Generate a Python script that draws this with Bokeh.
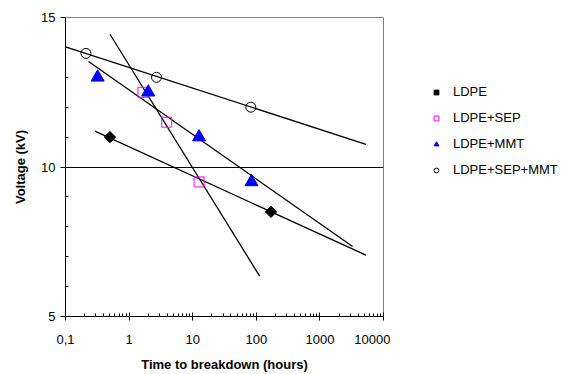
import math
from bokeh.plotting import figure
from bokeh.layouts import row
from bokeh.models import FixedTicker, Legend, LegendItem, Range1d
from bokeh.embed import file_html
from bokeh.resources import INLINE

# --- data ---
series_names = ["LDPE", "LDPE+SEP", "LDPE+MMT", "LDPE+SEP+MMT"]

ldpe_t = [0.5, 170]
ldpe_v = [11.0, 8.5]
sep_t = [1.65, 3.9, 12.6]
sep_v = [12.5, 11.5, 9.5]
mmt_t = [0.32, 2.0, 12.6, 84]
mmt_v = [13.0, 12.5, 11.0, 9.5]
sepmmt_t = [0.21, 2.7, 82]
sepmmt_v = [13.8, 13.0, 12.0]

# fitted trend lines (end points)
ldpe_fit_t = [0.29, 5300]
ldpe_fit_v = [11.2, 7.05]
sep_fit_t = [0.5, 113]
sep_fit_v = [14.44, 6.35]
mmt_fit_t = [0.23, 3270]
mmt_fit_v = [13.53, 7.34]
sepmmt_fit_t = [0.1, 5300]
sepmmt_fit_v = [14.02, 10.76]

x_major = [0.1, 1, 10, 100, 1000, 10000]
x_labels = ["0,1", "1", "10", "100", "1000", "10000"]
y_major = [5, 10, 15]
y_minor = [6, 7, 8, 9, 11, 12, 13, 14]

FONT = "Liberation Sans"

series_data = [(ldpe_t, ldpe_v), (sep_t, sep_v), (mmt_t, mmt_v), (sepmmt_t, sepmmt_v)]
marker_styles = [
    dict(marker="square", size=8, angle=math.pi / 4, fill_color="black", line_color="black"),
    dict(marker="square", size=10, fill_color=None, line_color="#FF00FF", line_width=1),
    dict(marker="triangle", size=13, fill_color="#0000FF", line_color="#0000FF"),
    dict(marker="circle", size=10, fill_color=None, line_color="black", line_width=1),
]

p = figure(width=390, height=374, x_axis_type="log",
           x_range=Range1d(0.1, 10000), y_range=Range1d(5, 15),
           output_backend="svg", toolbar_location=None,
           min_border_left=65, min_border_right=7,
           min_border_top=17, min_border_bottom=55)
p.background_fill_color = "white"
p.border_fill_color = "white"
p.outline_line_color = "#808080"
p.outline_line_width = 1

# axes
x_minor = []
for d in range(-1, 4):
    for m in range(2, 10):
        x_minor.append(m * 10 ** d)
p.xaxis.ticker = FixedTicker(ticks=x_major, minor_ticks=x_minor)
p.xaxis.major_label_overrides = {v: l for v, l in zip(x_major, x_labels)}
p.yaxis.ticker = FixedTicker(ticks=y_major, minor_ticks=y_minor)

for ax in (p.xaxis[0], p.yaxis[0]):
    ax.axis_line_color = "black"
    ax.axis_line_width = 1
    ax.major_tick_line_color = "black"
    ax.minor_tick_line_color = "black"
    ax.major_label_text_font = FONT
    ax.major_label_text_font_size = "13px"
    ax.major_label_text_color = "black"
    ax.axis_label_text_font = FONT
    ax.axis_label_text_font_size = "13px"
    ax.axis_label_text_font_style = "bold"
    ax.axis_label_text_color = "black"

p.xaxis.major_tick_in = 4
p.xaxis.major_tick_out = 4
p.xaxis.minor_tick_in = 3
p.xaxis.minor_tick_out = 0
p.xaxis.major_label_standoff = 14
p.xaxis.axis_label = "Time to breakdown (hours)"
p.xaxis.axis_label_standoff = 10

p.yaxis.major_tick_in = 0
p.yaxis.major_tick_out = 5
p.yaxis.minor_tick_in = 3
p.yaxis.minor_tick_out = 0
p.yaxis.major_label_standoff = 5
p.yaxis.axis_label = "Voltage (kV)"
p.yaxis.axis_label_standoff = 10

p.xgrid.visible = False
p.ygrid.ticker = FixedTicker(ticks=[10])
p.ygrid.grid_line_color = "black"
p.ygrid.grid_line_width = 1

# trend lines
for t, v in [(ldpe_fit_t, ldpe_fit_v), (sep_fit_t, sep_fit_v),
             (mmt_fit_t, mmt_fit_v), (sepmmt_fit_t, sepmmt_fit_v)]:
    p.line(t, v, line_color="black", line_width=1.3)

# markers
for (t, v), st in zip(series_data, marker_styles):
    p.scatter(t, v, **st)

# legend panel (separate figure to the right of the plot)
p2 = figure(width=176, height=374, x_axis_type="log",
            x_range=Range1d(0.1, 10000), y_range=Range1d(5, 15),
            output_backend="svg", toolbar_location=None,
            x_axis_location=None, y_axis_location=None,
            min_border=0, min_border_left=0, min_border_right=0,
            min_border_top=0, min_border_bottom=0)
p2.outline_line_color = None
p2.xgrid.visible = False
p2.ygrid.visible = False
p2.background_fill_color = "white"
p2.border_fill_color = "white"

legend_renderers = []
for (t, v), st in zip(series_data, marker_styles):
    r = p2.scatter(t, v, **st)
    r.visible = False
    legend_renderers.append(r)

legend = Legend(items=[LegendItem(label=n, renderers=[r])
                       for n, r in zip(series_names, legend_renderers)],
                location="top_left")
legend.click_policy = "none"
legend.title = " "
legend.title_text_font_size = "13px"
legend.title_standoff = 12
legend.border_line_color = None
legend.background_fill_alpha = 0
legend.margin = 40
legend.padding = 0
legend.spacing = 11
legend.glyph_width = 12
legend.glyph_height = 14
legend.label_height = 14
legend.label_standoff = 11
legend.label_text_font = FONT
legend.label_text_font_size = "13px"
legend.label_text_color = "black"
p2.add_layout(legend, "center")

layout = row(p, p2)
open("out.html", "w").write(file_html(layout, INLINE))
